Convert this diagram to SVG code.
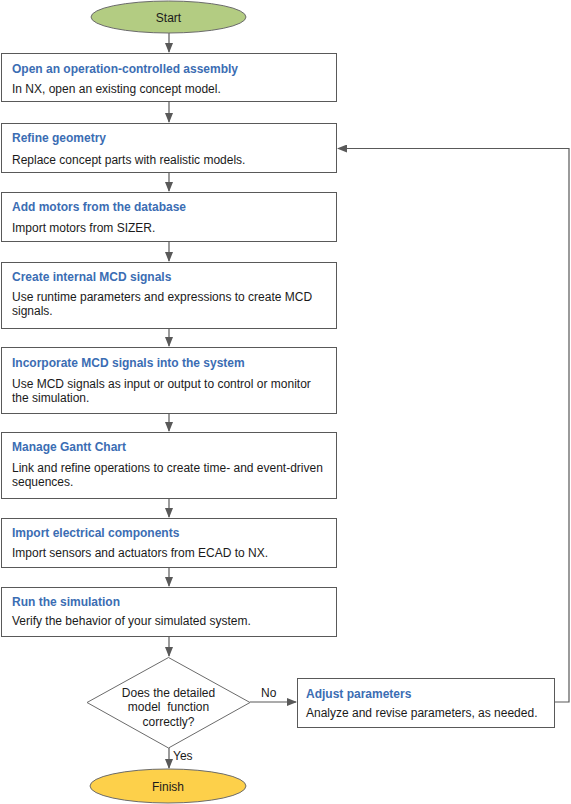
<svg xmlns="http://www.w3.org/2000/svg" width="571" height="804" viewBox="0 0 571 804">
<style>
.box{fill:#fff;stroke:#595959;stroke-width:1}
.t{font-family:"Liberation Sans",Arial,sans-serif;font-size:12px;font-weight:bold;fill:#3b6db3}
.b{font-family:"Liberation Sans",Arial,sans-serif;font-size:12px;fill:#1a1a1a}
.c{font-family:"Liberation Sans",Arial,sans-serif;font-size:12px;fill:#1a1a1a;text-anchor:middle}
.ln{fill:none;stroke:#595959;stroke-width:1.2}
</style>
<defs>
<marker id="ah" markerWidth="10" markerHeight="8" refX="9" refY="4" orient="auto" markerUnits="userSpaceOnUse">
<path d="M0,0 L10,4 L0,8 Z" fill="#595959"/>
</marker>
</defs>
<rect width="571" height="804" fill="#fff"/>
<g id="connectors">
<line class="ln" x1="169" y1="33" x2="169" y2="52" marker-end="url(#ah)"/>
<line class="ln" x1="169" y1="102" x2="169" y2="122" marker-end="url(#ah)"/>
<line class="ln" x1="169" y1="173" x2="169" y2="191" marker-end="url(#ah)"/>
<line class="ln" x1="169" y1="242" x2="169" y2="261" marker-end="url(#ah)"/>
<line class="ln" x1="169" y1="329" x2="169" y2="346" marker-end="url(#ah)"/>
<line class="ln" x1="169" y1="414" x2="169" y2="431" marker-end="url(#ah)"/>
<line class="ln" x1="169" y1="499" x2="169" y2="517" marker-end="url(#ah)"/>
<line class="ln" x1="169" y1="568" x2="169" y2="586" marker-end="url(#ah)"/>
<line class="ln" x1="169" y1="637" x2="169" y2="656" marker-end="url(#ah)"/>
<line class="ln" x1="169" y1="748" x2="169" y2="768" marker-end="url(#ah)"/>
<line class="ln" x1="250" y1="702" x2="296" y2="702" marker-end="url(#ah)"/>
<polyline class="ln" points="555,702 569,702 569,148.5 338,148.5" marker-end="url(#ah)"/>
<text class="b" x="261" y="697">No</text>
<text class="b" x="173" y="760">Yes</text>
</g>
<g id="start">
<ellipse cx="168.5" cy="17" rx="77.5" ry="16" fill="#b3cc82" stroke="#6b6b6b"/>
<text class="c" x="168.5" y="21.5" font-size="13">Start</text>
</g>
<g id="open">
<rect class="box" x="1.5" y="53.5" width="335" height="48"/>
<text class="t" x="12" y="72.5">Open an operation-controlled assembly</text>
<text class="b" x="12" y="92.5">In NX, open an existing concept model.</text>
</g>
<g id="refine">
<rect class="box" x="1.5" y="123.5" width="335" height="49"/>
<text class="t" x="12" y="141.5">Refine geometry</text>
<text class="b" x="12" y="163.5">Replace concept parts with realistic models.</text>
</g>
<g id="motors">
<rect class="box" x="1.5" y="192.5" width="335" height="49"/>
<text class="t" x="12" y="210.5">Add motors from the database</text>
<text class="b" x="12" y="231.5">Import motors from SIZER.</text>
</g>
<g id="internal">
<rect class="box" x="1.5" y="262.5" width="335" height="66"/>
<text class="t" x="12" y="281">Create internal MCD signals</text>
<text class="b" x="12" y="300.5">Use runtime parameters and expressions to create MCD</text>
<text class="b" x="12" y="314.5">signals.</text>
</g>
<g id="incorporate">
<rect class="box" x="1.5" y="347.5" width="335" height="66"/>
<text class="t" x="12" y="367">Incorporate MCD signals into the system</text>
<text class="b" x="12" y="388">Use MCD signals as input or output to control or monitor</text>
<text class="b" x="12" y="401.5">the simulation.</text>
</g>
<g id="gantt">
<rect class="box" x="1.5" y="432.5" width="335" height="66"/>
<text class="t" x="12" y="450.5">Manage Gantt Chart</text>
<text class="b" x="12" y="471.5">Link and refine operations to create time- and event-driven</text>
<text class="b" x="12" y="485.5">sequences.</text>
</g>
<g id="electrical">
<rect class="box" x="1.5" y="518.5" width="335" height="49"/>
<text class="t" x="12" y="536.5">Import electrical components</text>
<text class="b" x="12" y="556.5">Import sensors and actuators from ECAD to NX.</text>
</g>
<g id="run">
<rect class="box" x="1.5" y="587.5" width="335" height="49"/>
<text class="t" x="12" y="605.5">Run the simulation</text>
<text class="b" x="12" y="624.5">Verify the behavior of your simulated system.</text>
</g>
<g id="decision">
<polygon points="168.5,657.5 250,702.5 168.5,748 87,702.5" fill="#fff" stroke="#6b6b6b"/>
<text class="c" x="168.5" y="696.5">Does the detailed</text>
<text class="c" x="168.5" y="711" xml:space="preserve">model  function</text>
<text class="c" x="168.5" y="725.5">correctly?</text>
</g>
<g id="adjust">
<rect class="box" x="297.5" y="678.5" width="257" height="49"/>
<text class="t" x="306" y="697.5">Adjust parameters</text>
<text class="b" x="306" y="716.5">Analyze and revise parameters, as needed.</text>
</g>
<g id="finish">
<ellipse cx="168" cy="786" rx="78" ry="17" fill="#fdd04a" stroke="#6b6b6b"/>
<text class="c" x="168" y="790.5" font-size="13">Finish</text>
</g>
</svg>
